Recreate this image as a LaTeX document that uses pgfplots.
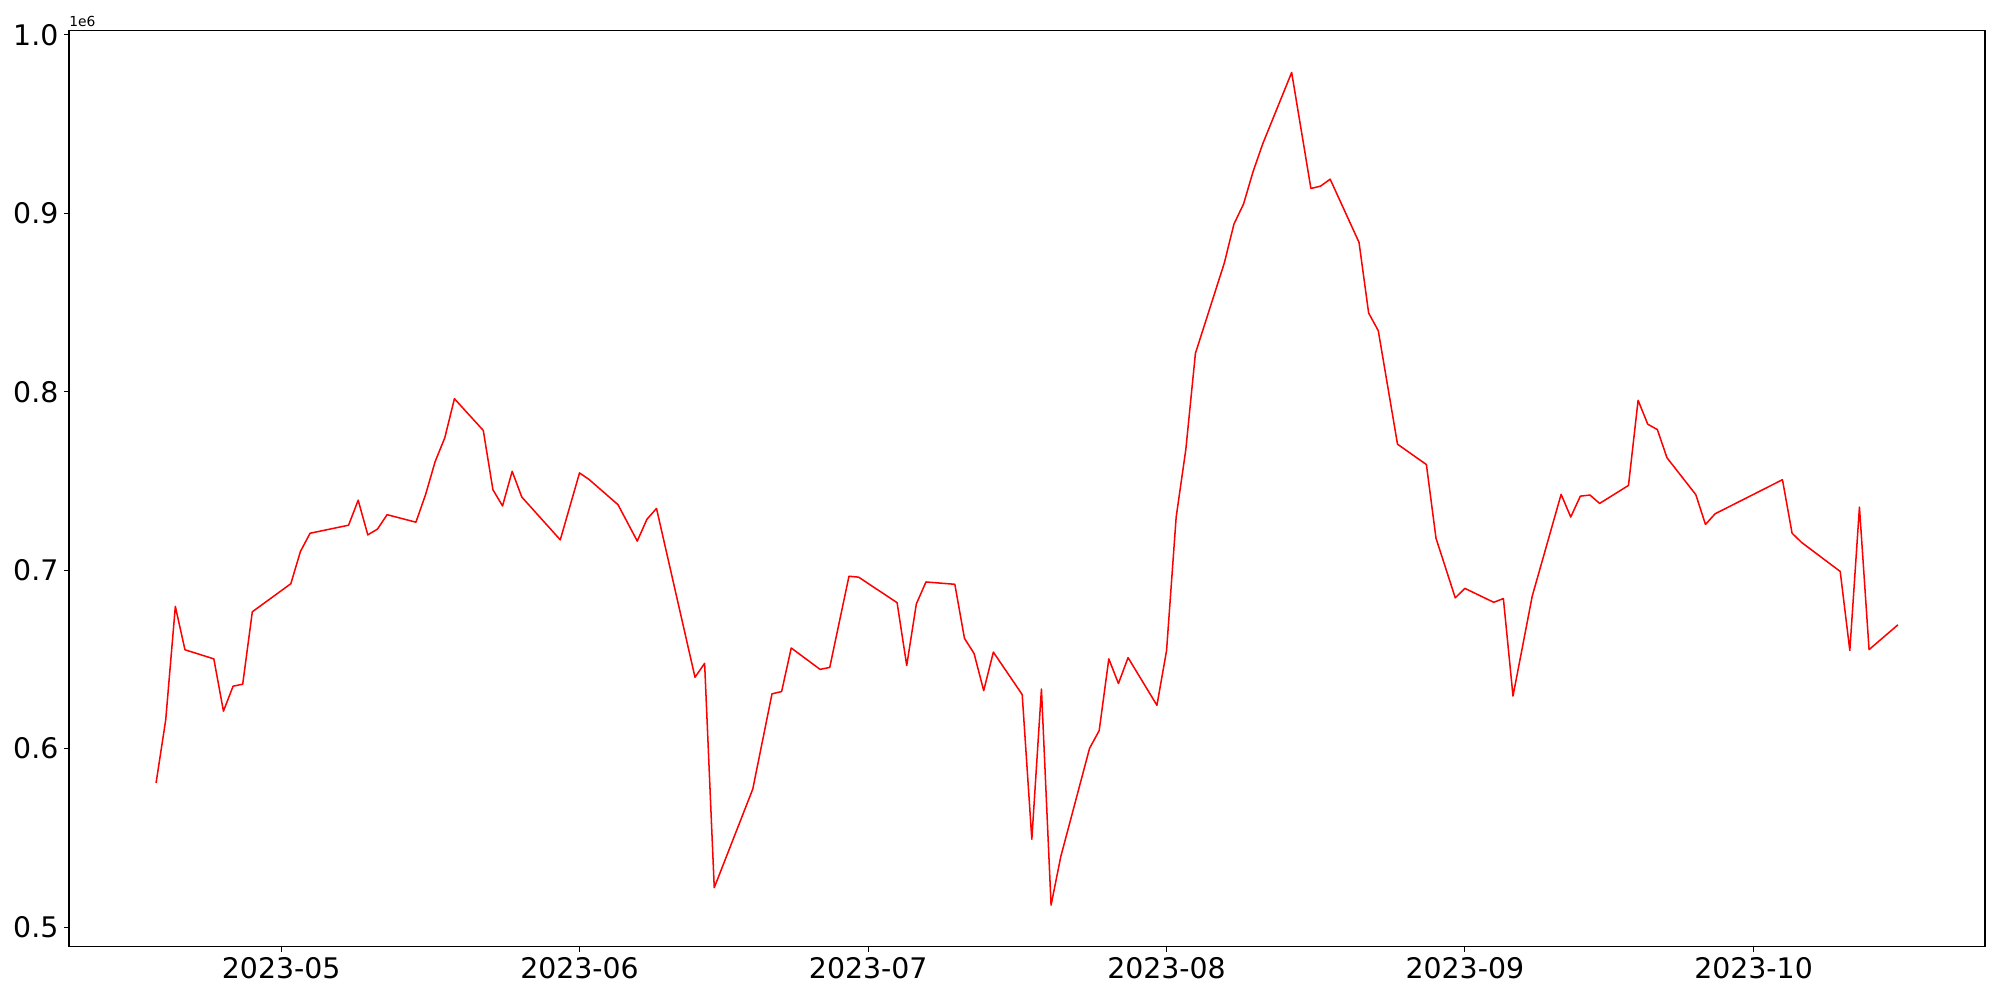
\documentclass[border=0pt]{standalone}
\usepackage{pgfplots}
\pgfplotsset{compat=1.18}
\usepackage{pgfplotstable}
\usepackage{fontspec}
\setmainfont{DejaVu Sans}

% day = days since 2023-05-01
\pgfplotstableread{
date day value
2023-04-18 -13 580800
2023-04-19 -12 616100
2023-04-20 -11 679700
2023-04-21 -10 655400
2023-04-24 -7 650300
2023-04-25 -6 621000
2023-04-26 -5 635000
2023-04-27 -4 636100
2023-04-28 -3 676700
2023-05-02 1 692400
2023-05-03 2 710500
2023-05-04 3 720700
2023-05-08 7 725200
2023-05-09 8 739200
2023-05-10 9 719800
2023-05-11 10 723000
2023-05-12 11 731100
2023-05-15 14 726900
2023-05-16 15 742300
2023-05-17 16 760900
2023-05-18 17 774200
2023-05-19 18 796100
2023-05-22 21 778300
2023-05-23 22 745100
2023-05-24 23 736000
2023-05-25 24 755400
2023-05-26 25 741000
2023-05-30 29 717000
2023-06-01 31 754500
2023-06-02 32 750800
2023-06-05 35 736700
2023-06-07 37 716300
2023-06-08 38 728500
2023-06-09 39 734600
2023-06-13 43 640000
2023-06-14 44 647800
2023-06-15 45 522100
2023-06-19 49 577300
2023-06-21 51 630700
2023-06-22 52 632000
2023-06-23 53 656400
2023-06-26 56 644400
2023-06-27 57 645500
2023-06-29 59 696600
2023-06-30 60 696100
2023-07-04 64 681800
2023-07-05 65 646600
2023-07-06 66 681100
2023-07-07 67 693400
2023-07-10 70 692100
2023-07-11 71 661800
2023-07-12 72 653300
2023-07-13 73 632500
2023-07-14 74 654100
2023-07-17 77 630300
2023-07-18 78 549200
2023-07-19 79 633400
2023-07-20 80 512300
2023-07-21 81 539300
2023-07-24 84 600200
2023-07-25 85 610100
2023-07-26 86 650300
2023-07-27 87 636500
2023-07-28 88 651000
2023-07-31 91 624300
2023-08-01 92 654900
2023-08-02 93 729800
2023-08-03 94 767500
2023-08-04 95 821500
2023-08-07 98 872100
2023-08-08 99 893900
2023-08-09 100 905200
2023-08-10 101 923500
2023-08-11 102 939000
2023-08-14 105 978900
2023-08-16 107 913900
2023-08-17 108 915200
2023-08-18 109 919100
2023-08-21 112 883700
2023-08-22 113 844100
2023-08-23 114 834200
2023-08-25 116 770600
2023-08-28 119 759200
2023-08-29 120 717900
2023-08-31 122 684500
2023-09-01 123 689800
2023-09-04 126 682000
2023-09-05 127 684100
2023-09-06 128 629500
2023-09-08 130 685500
2023-09-11 133 742500
2023-09-12 134 729800
2023-09-13 135 741500
2023-09-14 136 742100
2023-09-15 137 737400
2023-09-18 140 747500
2023-09-19 141 795200
2023-09-20 142 781800
2023-09-21 143 778800
2023-09-22 144 763000
2023-09-25 147 742300
2023-09-26 148 725600
2023-09-27 149 731600
2023-10-04 156 750700
2023-10-05 157 720700
2023-10-06 158 715500
2023-10-10 162 699300
2023-10-11 163 655000
2023-10-12 164 735300
2023-10-13 165 655500
2023-10-16 168 669400
}\series

\begin{document}
\begin{tikzpicture}
\useasboundingbox (-0.69in,-0.535in) rectangle (19.31in,9.469in);
\begin{axis}[
  at={(0,0)}, anchor=south west,
  scale only axis,
  width=19.16in, height=9.16in,
  xmin=-22.05, xmax=177.05,
  ymin=488900, ymax=1002200,
  xtick={0,31,61,92,123,153},
  xticklabels={2023-05,2023-06,2023-07,2023-08,2023-09,2023-10},
  ytick={500000,600000,700000,800000,900000,1000000},
  yticklabels={0.5,0.6,0.7,0.8,0.9,1.0},
  scaled y ticks=false,
  scaled x ticks=false,
  tick align=outside,
  xtick pos=bottom, ytick pos=left,
  major tick length=3.5pt,
  every tick/.style={black, line width=0.8pt},
  axis line style={line width=0.8pt},
  tick label style={font=\fontsize{20.5}{24}\selectfont},
  xticklabel style={inner sep=0pt, yshift=-4pt},
  yticklabel style={inner sep=0pt, xshift=-4pt},
  clip mode=individual,
]
\addplot[red, line width=1.1pt, line join=round, mark=none] table[x=day, y=value] {\series};
\node[anchor=south west, inner sep=0pt, font=\fontsize{10}{12}\selectfont] at (rel axis cs:0,1) [yshift=3pt] {1e6};
\end{axis}
\end{tikzpicture}
\end{document}
